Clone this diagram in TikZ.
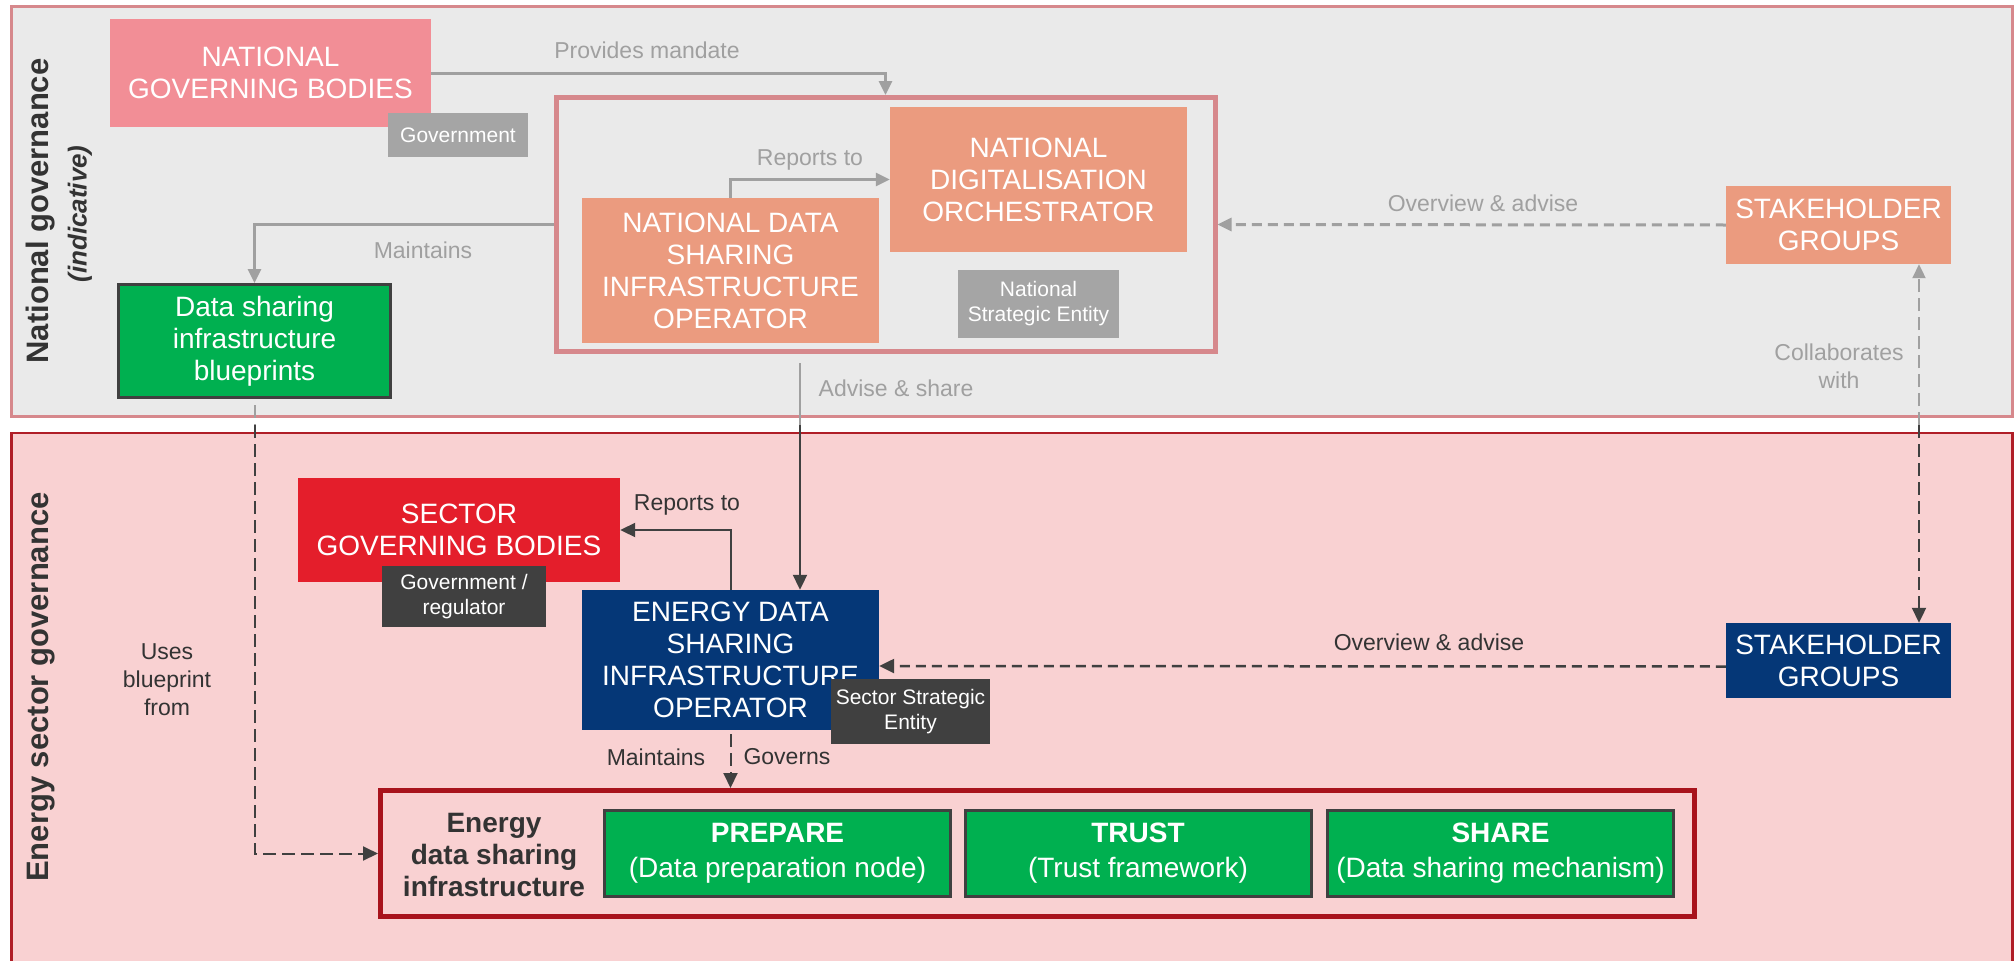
\documentclass[tikz,border=0pt]{standalone}
\usepackage{fontspec}
\setmainfont{Liberation Sans}
\usetikzlibrary{arrows.meta}

\definecolor{natpanel}{HTML}{EAEAEA}
\definecolor{natedge}{HTML}{D6888C}
\definecolor{secpanel}{HTML}{F9D1D2}
\definecolor{secedge}{HTML}{B01E27}
\definecolor{govpink}{HTML}{F28E96}
\definecolor{salmon}{HTML}{EB9B7F}
\definecolor{taggray}{HTML}{A5A5A5}
\definecolor{tagdark}{HTML}{404040}
\definecolor{bpgreen}{HTML}{00B050}
\definecolor{secred}{HTML}{E41E2B}
\definecolor{navy}{HTML}{053777}
\definecolor{framered}{HTML}{A8131C}
\definecolor{linegray}{HTML}{A0A0A0}
\definecolor{linedark}{HTML}{404040}
\definecolor{textdark}{HTML}{333333}

\begin{document}
\begin{tikzpicture}
[every node/.style={inner sep=0pt},
 box/.style={rectangle, text=white, align=center, font=\fontsize{28}{32}\selectfont},
 tag/.style={rectangle, text=white, align=center, font=\fontsize{21}{25}\selectfont},
 pillar/.style={rectangle, fill=bpgreen, draw=linedark, line width=3pt, minimum width=346pt, minimum height=86pt, text=white, align=center, font=\fontsize{28}{35}\selectfont},
 lbl/.style={align=center, font=\fontsize{23}{28}\selectfont},
 side/.style={rotate=90, text=textdark, font=\bfseries\fontsize{31}{36}\selectfont},
 grayline/.style={line width=3pt, color=linegray},
 darkline/.style={line width=2pt, color=linedark},
 graytip/.style={-{Triangle[length=14pt, width=13pt]}},
 darktip/.style={-{Triangle[length=15pt, width=14pt]}},
 dashh/.style={dash pattern=on 10pt off 6pt},
 dashv/.style={dash pattern=on 13pt off 6pt}]
\useasboundingbox (0pt,0pt) rectangle (2016pt,-961pt);
% panels
\draw [line width=3pt, draw=natedge, fill=natpanel] (11.5pt,-6.5pt) rectangle (2012.5pt,-416pt);
\draw [line width=2.5pt, draw=secedge, fill=secpanel] (11.5pt,-433pt) rectangle (2012.5pt,-980pt);
\node (natlbl) [side] at (41pt,-211pt) {National governance};
\node (indlbl) [side, font=\bfseries\itshape\fontsize{26}{30}\selectfont] at (80pt,-214pt) {(indicative)};
\node (seclbl) [side] at (41pt,-687pt) {Energy sector governance};
% frames
\node (natframe) [rectangle, minimum width=659pt, minimum height=254pt, line width=5pt, draw=natedge] at (885.5pt,-224.5pt) {};
\node (infraframe) [rectangle, minimum width=1314pt, minimum height=126pt, line width=5pt, draw=framered] at (1037.5pt,-853.5pt) {};
% national level
\node (ngb) [box, fill=govpink, minimum width=321pt, minimum height=108pt] at (270.5pt,-73pt) {NATIONAL\\GOVERNING BODIES};
\node (govtag) [tag, fill=taggray, minimum width=140pt, minimum height=44pt] at (458pt,-135pt) {Government};
\node (ndo) [box, fill=salmon, minimum width=297pt, minimum height=145pt] at (1038.5pt,-179.5pt) {NATIONAL\\DIGITALISATION\\ORCHESTRATOR};
\node (ndsio) [box, fill=salmon, minimum width=297pt, minimum height=145pt] at (730.5pt,-270.5pt) {NATIONAL DATA\\SHARING\\INFRASTRUCTURE\\OPERATOR};
\node (nsetag) [tag, fill=taggray, minimum width=161pt, minimum height=68pt] at (1038.5pt,-304pt) {National\\Strategic Entity};
\node (stktop) [box, fill=salmon, minimum width=225pt, minimum height=78pt] at (1838.5pt,-225pt) {STAKEHOLDER\\GROUPS};
\node (blueprints) [box, fill=bpgreen, draw=linedark, line width=3pt, minimum width=272pt, minimum height=113pt] at (254.5pt,-341pt) {Data sharing\\infrastructure\\blueprints};
% sector level
\node (sgb) [box, fill=secred, minimum width=322pt, minimum height=104pt] at (459pt,-530pt) {SECTOR\\GOVERNING BODIES};
\node (govregtag) [tag, fill=tagdark, minimum width=164pt, minimum height=61pt] at (464pt,-596.5pt) {Government /\\regulator};
\node (edsio) [box, fill=navy, minimum width=297pt, minimum height=140pt] at (730.5pt,-660pt) {ENERGY DATA\\SHARING\\INFRASTRUCTURE\\OPERATOR};
\node (ssetag) [tag, fill=tagdark, minimum width=159pt, minimum height=65pt] at (910.5pt,-711.5pt) {Sector Strategic\\Entity};
\node (stkbot) [box, fill=navy, minimum width=225pt, minimum height=75pt] at (1838.5pt,-660.5pt) {STAKEHOLDER\\GROUPS};
\node (infralbl) [text=textdark, align=center, font=\bfseries\fontsize{28}{32}\selectfont] at (494pt,-855pt) {Energy\\data sharing\\infrastructure};
\node (prepare) [pillar] at (777.5pt,-853.5pt) {\textbf{PREPARE}\\(Data preparation node)};
\node (trust) [pillar] at (1138pt,-853.5pt) {\textbf{TRUST}\\(Trust framework)};
\node (share) [pillar] at (1500.5pt,-853.5pt) {\textbf{SHARE}\\(Data sharing mechanism)};
% connectors, national
\draw [grayline, graytip] (ngb.east) -| (natframe.north);
\draw [grayline, graytip] (ndsio.north) |- (ndo.west);
\draw [grayline, graytip] (natframe.west) -| (blueprints.north);
\draw [grayline, graytip, dashh] (stktop.west) -- (natframe.east);
\coordinate (collabmid) at (1919pt,-425pt);
\coordinate (advtop) at (800pt,-363pt);
\coordinate (advmid) at (800pt,-425pt);
\coordinate (bpmid) at (254.5pt,-425pt);
\draw [grayline, line width=2pt, graytip, dashv] (collabmid) -- (stktop.south -| collabmid);
\draw [darkline, darktip, dashv] (collabmid) -- (stkbot.north -| collabmid);
\draw [grayline, line width=2pt] (advtop) -- (advmid);
\draw [darkline, darktip] (advmid) -- (edsio.north -| advmid);
\draw [grayline, line width=2pt, dashv] ([yshift=-6pt]blueprints.south) -- (bpmid);
\draw [darkline, darktip, dashv] (bpmid) |- (infraframe.west);
% connectors, sector
\draw [darkline, darktip] (edsio.north) |- (sgb.east);
\draw [darkline, darktip, dashv] ([yshift=-4pt]edsio.south) -- (edsio.south |- infraframe.north);
\draw [darkline, line width=2.5pt, darktip, dashh] ([yshift=-6pt]stkbot.west) -- ([yshift=-6pt]edsio.east);
% labels
\node (mandatelbl) [lbl, text=linegray] at (647pt,-50pt) {Provides mandate};
\node (reptoplbl) [lbl, text=linegray] at (810pt,-160pt) {Reports to};
\node (mainttoplbl) [lbl, text=linegray] at (423pt,-250pt) {Maintains};
\node (overtoplbl) [lbl, text=linegray] at (1483pt,-203pt) {Overview \& advise};
\node (collablbl) [lbl, text=linegray] at (1839pt,-366pt) {Collaborates\\with};
\node (advlbl) [lbl, text=linegray] at (896pt,-388pt) {Advise \& share};
\node (useslbl) [lbl, text=textdark] at (167pt,-680pt) {Uses\\blueprint\\from};
\node (repbotlbl) [lbl, text=textdark] at (687pt,-505pt) {Reports to};
\node (maintbotlbl) [lbl, text=textdark] at (656pt,-757pt) {Maintains};
\node (governslbl) [lbl, text=textdark] at (787pt,-757pt) {Governs};
\node (overbotlbl) [lbl, text=textdark] at (1429pt,-642pt) {Overview \& advise};
\end{tikzpicture}
\end{document}
